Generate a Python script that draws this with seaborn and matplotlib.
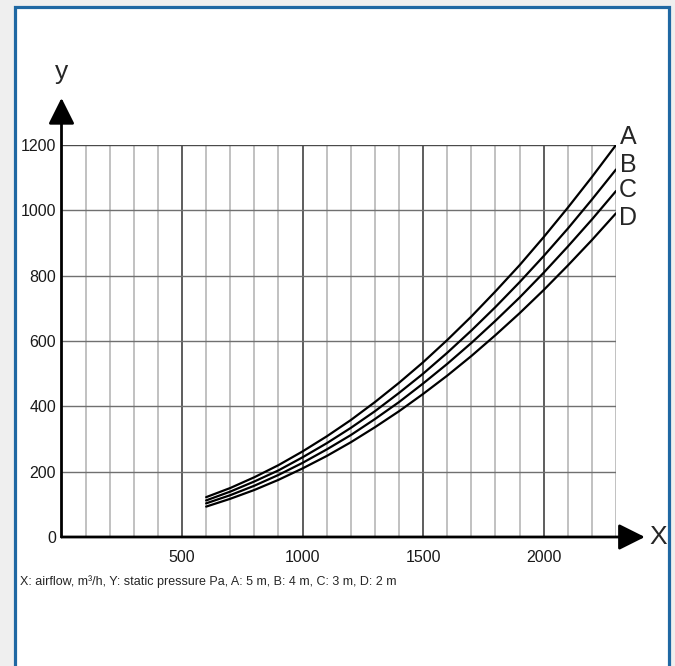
import pandas as pd
import matplotlib
matplotlib.use('Agg')
import matplotlib.pyplot as plt
from matplotlib.patches import Rectangle
import seaborn as sns

# Dados (vazao x pressao estatica)
airflow = [600, 700, 800, 900, 1000, 1100, 1200, 1300, 1400, 1500,
           1600, 1700, 1800, 1900, 2000, 2100, 2200, 2300]
curve_a = [122, 150, 183, 220, 262, 308, 358, 413, 472, 535,
           603, 675, 752, 832, 918, 1008, 1102, 1200]
curve_b = [112, 139, 170, 204, 244, 287, 334, 385, 441, 500,
           564, 632, 704, 780, 860, 944, 1033, 1125]
curve_c = [103, 128, 157, 190, 227, 268, 312, 361, 413, 470,
           530, 594, 662, 733, 809, 889, 972, 1059]
curve_d = [93, 117, 144, 175, 210, 248, 290, 336, 385, 438,
           494, 554, 618, 685, 756, 831, 909, 991]
curve_names = ['A', 'B', 'C', 'D']
x_ticks = [500, 1000, 1500, 2000]
y_ticks = [0, 200, 400, 600, 800, 1000, 1200]
caption = 'X: airflow, m\u00b3/h, Y: static pressure Pa, A: 5 m, B: 4 m, C: 3 m, D: 2 m'

frames = []
for name, vals in zip(curve_names, [curve_a, curve_b, curve_c, curve_d]):
    frames.append(pd.DataFrame({'x': airflow, 'y': vals, 'curve': name}))
data = pd.concat(frames, ignore_index=True)

sns.set_style('white')
plt.rcParams['font.family'] = ['Liberation Sans', 'DejaVu Sans']

fig = plt.figure(figsize=(6.75, 6.66), dpi=100, facecolor='#efefef')

# moldura azul
fig.patches.append(Rectangle((15 / 675, -0.05), 654 / 675, 1.05 - 7 / 666,
                             transform=fig.transFigure, facecolor='white',
                             edgecolor='#1f68a3', linewidth=2.3, zorder=-5))

ax = fig.add_axes([61.5 / 675, 1 - 537 / 666, 554.5 / 675, 392 / 666])
ax.set_facecolor('none')
ax.set_zorder(2)

sns.lineplot(data=data, x='x', y='y', hue='curve',
             palette=['black'] * 4, linewidth=1.6, legend=False, ax=ax, zorder=3)

ax.set_xlim(0, 2300)
ax.set_ylim(0, 1200)
ax.set_xticks(x_ticks)
ax.set_xticks(range(0, 2301, 100), minor=True)
ax.set_yticks(y_ticks)
ax.set_xlabel('')
ax.set_ylabel('')
ax.tick_params(axis='both', which='both', length=0, labelsize=11.5, colors='#1a1a1a')
ax.tick_params(axis='x', pad=9)
ax.tick_params(axis='y', pad=4)
ax.set_xticklabels([str(t) for t in x_ticks])

# grade
ax.grid(False)
for xv in range(100, 2301, 100):
    major = xv % 500 == 0
    ax.axvline(xv, color='#505050' if major else '#b0b0b0',
               lw=1.3 if major else 1.1, zorder=1)
for yv in y_ticks[1:]:
    ax.axhline(yv, color='#4a4a4a' if yv == 1200 else '#707070', lw=1.0, zorder=1)

for s in ax.spines.values():
    s.set_visible(False)

# eixos com setas
arrow = dict(arrowstyle='-|>,head_length=1.0,head_width=0.5', color='black',
             lw=2, mutation_scale=16, shrinkA=0, shrinkB=0)
ax.annotate('', xy=(1.052, 0), xytext=(0, 0), xycoords='axes fraction',
            arrowprops=arrow, annotation_clip=False, zorder=5)
ax.annotate('', xy=(0, 1.12), xytext=(0, 0), xycoords='axes fraction',
            arrowprops=arrow, annotation_clip=False, zorder=5)
ax.text(0.0, 1.185, 'y', transform=ax.transAxes, fontsize=19,
        ha='center', va='center')
ax.text(1.076, 0.0, 'X', transform=ax.transAxes, fontsize=19,
        ha='center', va='center')

# rotulos das curvas
label_shift = [24, 14, 2, -14]
for name, vals, dy in zip(curve_names, [curve_a, curve_b, curve_c, curve_d], label_shift):
    ax.text(airflow[-1] + 50, vals[-1] + dy, name, fontsize=18,
            ha='center', va='center', clip_on=False)

fig.text(20 / 675, 1 - 582 / 666, caption, fontsize=9,
         family=['Liberation Sans Narrow', 'Liberation Sans', 'DejaVu Sans'],
         ha='left', va='center')

fig.savefig('out.png', dpi=100, facecolor=fig.get_facecolor())
